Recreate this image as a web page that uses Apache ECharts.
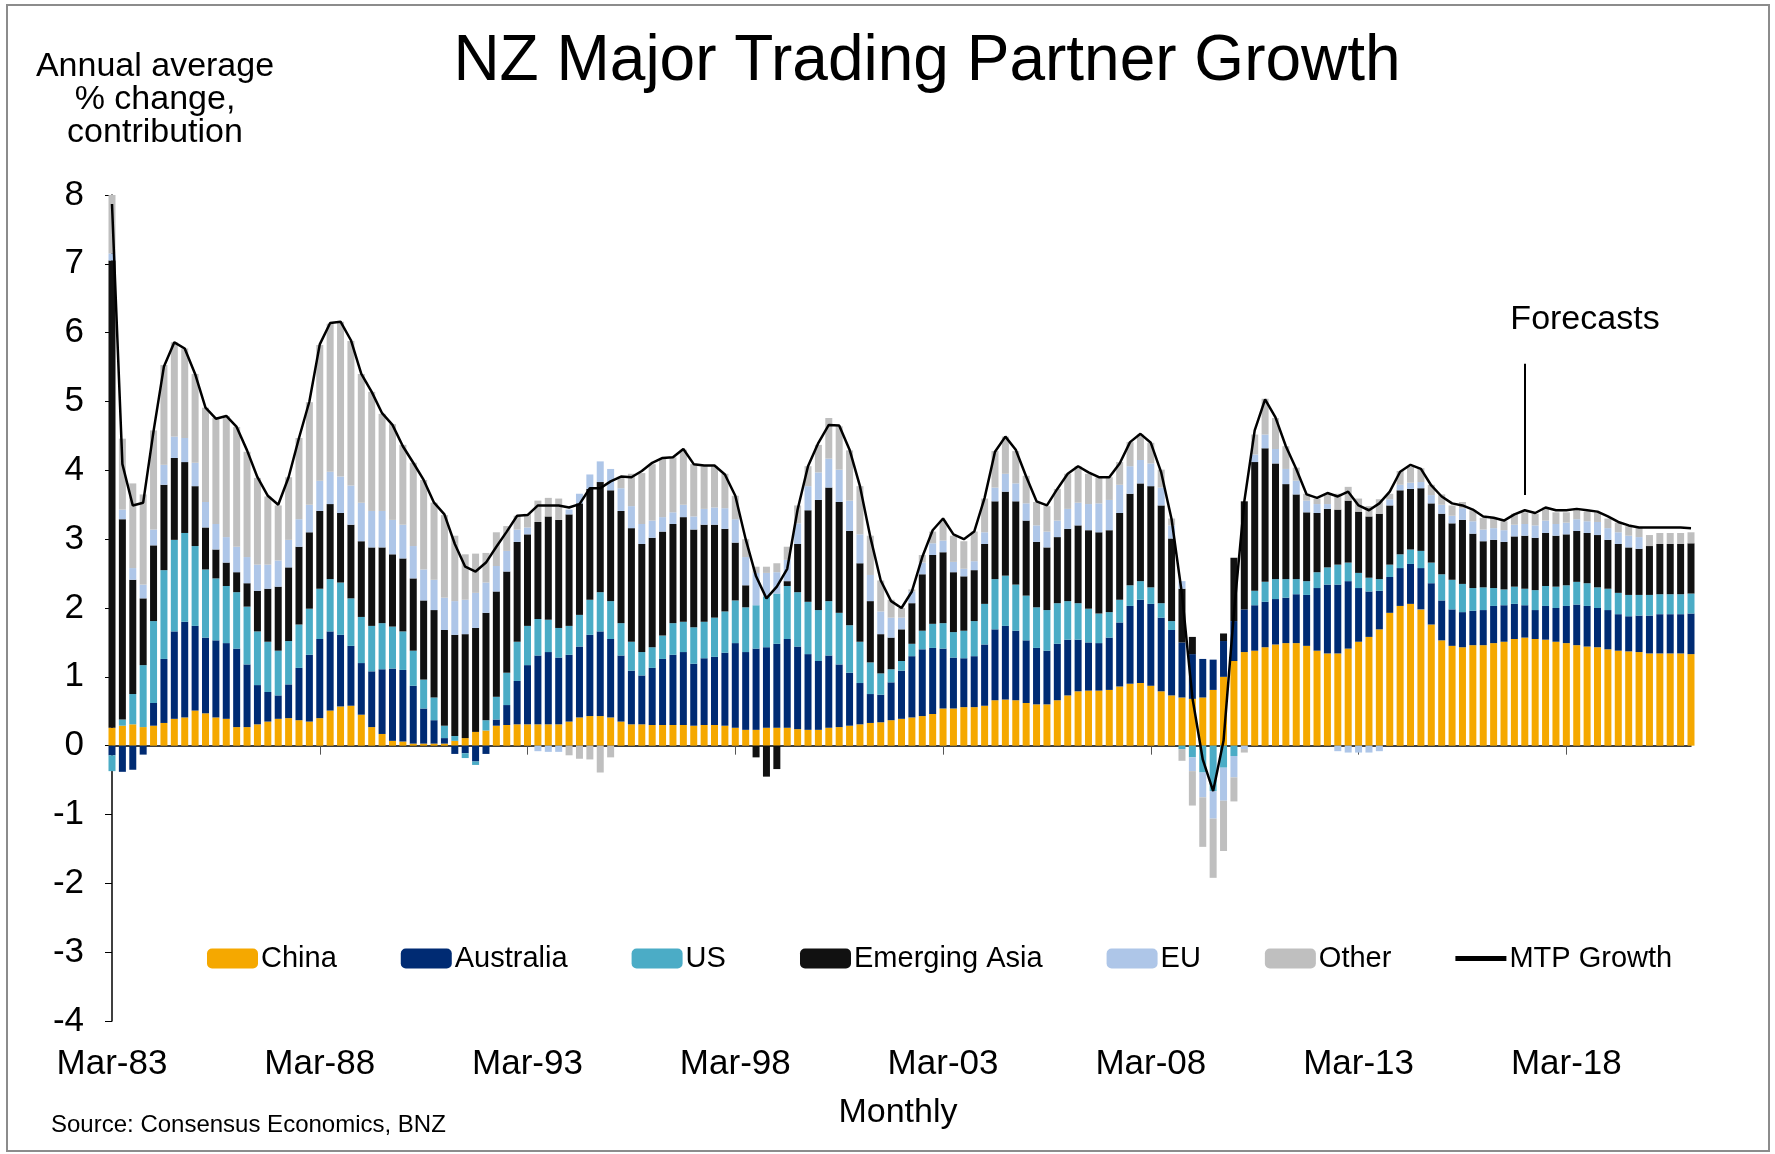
<!DOCTYPE html>
<html>
<head>
<meta charset="utf-8">
<title>NZ Major Trading Partner Growth</title>
<script src="https://cdn.jsdelivr.net/npm/echarts/dist/echarts.min.js"></script>
<style>
  html, body { margin: 0; padding: 0; background: #fff; }
  #chart { width: 1775px; height: 1154px; }
</style>
</head>
<body>
<div id="chart"></div>
<script>
// quarterly, Mar-83 .. Mar-21 (153 points), contributions in % pts
const china = [
  0.26,0.29,0.31,0.27,0.29,0.33,0.39,0.41,0.51,0.47,
  0.41,0.39,0.27,0.27,0.31,0.35,0.39,0.40,0.37,0.35,
  0.40,0.51,0.57,0.58,0.45,0.27,0.17,0.07,0.06,0.03,
  0.03,0.03,0.03,0.07,0.11,0.20,0.22,0.29,0.30,0.31,
  0.31,0.31,0.31,0.31,0.35,0.41,0.43,0.43,0.41,0.35,
  0.31,0.31,0.30,0.30,0.30,0.30,0.29,0.30,0.30,0.29,
  0.26,0.23,0.23,0.26,0.26,0.26,0.24,0.23,0.23,0.26,
  0.27,0.29,0.31,0.33,0.34,0.37,0.39,0.41,0.43,0.46,
  0.54,0.54,0.56,0.56,0.58,0.66,0.67,0.66,0.62,0.60,
  0.60,0.66,0.73,0.79,0.80,0.80,0.81,0.86,0.90,0.91,
  0.87,0.79,0.73,0.70,0.68,0.70,0.81,1.00,1.23,1.36,
  1.38,1.43,1.47,1.49,1.49,1.45,1.38,1.34,1.34,1.41,
  1.51,1.58,1.69,1.93,2.03,2.06,1.98,1.76,1.53,1.45,
  1.43,1.46,1.46,1.49,1.51,1.55,1.57,1.55,1.54,1.51,
  1.49,1.46,1.44,1.43,1.40,1.38,1.37,1.36,1.34,1.34,
  1.34,1.34,1.33
];
const australia = [
  -0.14,-0.38,-0.35,-0.13,0.33,0.93,1.27,1.39,1.23,1.10,
  1.12,1.10,1.14,0.91,0.57,0.43,0.34,0.49,0.76,0.97,
  1.15,1.15,1.04,0.87,0.75,0.81,0.94,1.05,1.04,0.84,
  0.51,0.34,0.08,-0.12,-0.11,-0.23,-0.12,0.09,0.29,0.63,
  0.86,1.00,1.05,0.97,0.97,1.03,1.18,1.23,1.14,0.96,
  0.78,0.71,0.83,0.96,1.02,1.06,0.90,0.97,0.99,1.06,
  1.23,1.13,1.18,1.17,1.22,1.29,1.20,1.10,1.00,1.05,
  0.91,0.77,0.60,0.42,0.40,0.55,0.70,0.89,0.97,0.96,
  0.87,0.74,0.71,0.74,0.89,1.03,1.07,1.01,0.91,0.82,
  0.78,0.82,0.81,0.75,0.70,0.69,0.76,0.93,1.13,1.21,
  1.19,1.07,0.95,0.80,0.65,0.56,0.44,0.52,0.58,0.62,
  0.66,0.66,0.66,0.66,0.71,0.74,0.91,1.00,1.00,0.98,
  0.78,0.66,0.56,0.52,0.55,0.58,0.60,0.60,0.58,0.53,
  0.51,0.50,0.51,0.54,0.53,0.51,0.47,0.42,0.49,0.49,
  0.54,0.59,0.59,0.57,0.57,0.53,0.51,0.53,0.55,0.57,
  0.57,0.57,0.59
];
const us = [
  -0.23,0.09,0.44,0.90,1.19,1.29,1.33,1.29,1.16,0.99,
  0.90,0.83,0.82,0.84,0.78,0.73,0.65,0.63,0.63,0.67,
  0.73,0.76,0.76,0.69,0.67,0.66,0.67,0.61,0.56,0.51,
  0.42,0.33,0.18,0.07,-0.07,-0.05,0.15,0.33,0.47,0.57,
  0.57,0.53,0.47,0.43,0.42,0.46,0.51,0.57,0.55,0.47,
  0.42,0.34,0.30,0.34,0.46,0.44,0.53,0.53,0.57,0.60,
  0.62,0.65,0.63,0.74,0.73,0.77,0.79,0.76,0.74,0.79,
  0.75,0.69,0.60,0.46,0.31,0.19,0.14,0.18,0.27,0.35,
  0.37,0.37,0.40,0.51,0.59,0.73,0.73,0.67,0.65,0.59,
  0.59,0.59,0.56,0.53,0.49,0.43,0.37,0.33,0.30,0.27,
  0.24,0.21,0.13,-0.05,-0.17,-0.39,-0.66,-0.32,-0.15,0,
  0.21,0.29,0.29,0.27,0.22,0.20,0.23,0.25,0.29,0.27,
  0.22,0.20,0.17,0.18,0.20,0.21,0.25,0.30,0.38,0.43,
  0.41,0.33,0.33,0.26,0.23,0.25,0.24,0.29,0.29,0.31,
  0.30,0.33,0.33,0.30,0.31,0.31,0.31,0.30,0.30,0.29,
  0.29,0.29,0.29
];
const emergingAsia = [
  6.79,2.91,1.66,0.97,1.10,1.24,1.19,1.03,0.87,0.61,
  0.42,0.34,0.29,0.34,0.59,0.77,0.93,1.07,1.13,1.11,
  1.13,1.09,1.01,1.07,1.10,1.14,1.10,1.05,1.06,1.05,
  1.15,1.27,1.39,1.47,1.51,1.51,1.56,1.53,1.47,1.45,
  1.33,1.41,1.50,1.57,1.62,1.62,1.61,1.60,1.61,1.63,
  1.65,1.57,1.59,1.51,1.44,1.52,1.42,1.41,1.35,1.20,
  0.84,0.32,-0.17,-0.45,-0.34,0.07,0.70,1.33,1.60,1.65,
  1.61,1.37,1.14,0.89,0.57,0.46,0.46,0.59,0.82,1.00,
  1.03,0.87,0.79,0.74,0.87,1.13,1.22,1.21,1.09,0.95,
  0.91,0.96,1.05,1.13,1.14,1.18,1.19,1.26,1.33,1.42,
  1.47,1.42,1.20,0.78,0.25,0,0,0.11,0.92,1.57,
  1.87,1.94,1.68,1.38,1.23,1.00,0.86,0.85,0.80,0.90,
  0.89,0.89,0.95,0.86,0.93,0.88,0.91,0.86,0.88,0.82,
  0.93,0.79,0.67,0.70,0.69,0.73,0.77,0.76,0.77,0.74,
  0.74,0.74,0.73,0.76,0.71,0.71,0.69,0.67,0.71,0.73,
  0.73,0.73,0.73
];
const eu = [
  0.10,0.14,0.17,0.20,0.23,0.29,0.31,0.35,0.34,0.37,
  0.37,0.37,0.37,0.38,0.38,0.35,0.38,0.40,0.40,0.40,
  0.44,0.47,0.53,0.57,0.56,0.53,0.53,0.50,0.49,0.47,
  0.45,0.44,0.47,0.49,0.50,0.51,0.44,0.37,0.30,0.18,
  0.10,-0.08,-0.09,-0.09,0.07,0.14,0.21,0.30,0.31,0.33,
  0.32,0.29,0.25,0.21,0.17,0.18,0.19,0.23,0.25,0.30,
  0.34,0.41,0.47,0.34,0.31,0.31,0.30,0.35,0.40,0.42,
  0.47,0.44,0.42,0.38,0.33,0.29,0.17,0.17,0.17,0.17,
  0.17,0.15,0.11,0.13,0.17,0.20,0.26,0.26,0.25,0.24,
  0.23,0.24,0.29,0.33,0.38,0.42,0.44,0.41,0.40,0.34,
  0.33,0.26,0.19,0.11,-0.20,-0.36,-0.40,-0.48,-0.31,-0.05,
  0.11,0.20,0.21,0.22,0.20,0.17,0.13,0.07,-0.08,-0.10,
  -0.10,-0.10,-0.08,0.09,0.08,0.09,0.09,0.12,0.13,0.11,
  0.17,0.18,0.17,0.17,0.17,0.17,0.17,0.18,0.18,0.17,
  0.17,0.17,0.17,0.19,0.17,0.17,0.17,0.17,0,0,
  0,0,0
];
const other = [
  0.85,1.03,1.23,1.31,1.44,1.45,1.37,1.30,1.29,1.37,
  1.54,1.76,1.74,1.53,1.26,0.99,0.80,0.91,1.18,1.49,
  1.97,2.15,2.25,2.10,1.87,1.73,1.41,1.39,1.16,1.21,
  1.30,1.12,1.20,0.95,0.66,0.57,0.43,0.49,0.36,0.20,
  0.20,0.31,0.27,0.31,-0.14,-0.19,-0.20,-0.39,-0.17,0.17,
  0.47,0.74,0.82,0.86,0.80,0.80,0.76,0.62,0.60,0.50,
  0.34,0.26,0.09,0.09,0.13,0.19,0.26,0.29,0.40,0.59,
  0.63,0.73,0.70,0.57,0.45,0.26,0.14,0.03,0.11,0.17,
  0.29,0.38,0.40,0.43,0.49,0.53,0.54,0.47,0.40,0.34,
  0.37,0.46,0.51,0.53,0.44,0.38,0.33,0.33,0.35,0.37,
  0.30,0.26,0.10,-0.17,-0.50,-0.72,-0.86,-0.73,-0.35,-0.05,
  0.29,0.52,0.45,0.33,0.19,0.10,0.08,0.15,0.23,0.20,
  0.19,0.15,0.21,0.08,0.20,0.23,0.20,0.15,0.15,0.15,
  0.09,0.16,0.17,0.15,0.13,0.16,0.17,0.17,0.19,0.17,
  0.15,0.15,0.14,0.14,0.14,0.14,0.14,0.14,0.16,0.16,
  0.16,0.16,0.16
];
const mtpGrowth = [
  7.87,4.09,3.49,3.53,4.57,5.51,5.86,5.77,5.40,4.91,
  4.75,4.79,4.63,4.29,3.90,3.63,3.50,3.90,4.47,5.00,
  5.83,6.14,6.16,5.89,5.40,5.14,4.83,4.66,4.35,4.11,
  3.86,3.53,3.36,2.93,2.60,2.53,2.66,2.89,3.11,3.34,
  3.35,3.49,3.49,3.49,3.46,3.51,3.74,3.74,3.84,3.91,
  3.90,3.99,4.11,4.18,4.19,4.31,4.09,4.07,4.07,3.94,
  3.63,3.00,2.46,2.14,2.31,2.57,3.43,4.06,4.40,4.66,
  4.65,4.30,3.77,3.03,2.40,2.10,2.00,2.24,2.74,3.13,
  3.30,3.07,3.00,3.11,3.60,4.27,4.49,4.30,3.91,3.55,
  3.49,3.73,3.95,4.06,3.97,3.90,3.90,4.10,4.41,4.53,
  4.40,3.97,3.29,2.20,0.70,-0.20,-0.66,0.07,1.93,3.55,
  4.58,5.03,4.77,4.35,4.02,3.65,3.60,3.67,3.62,3.69,
  3.49,3.42,3.52,3.69,3.98,4.08,4.02,3.78,3.62,3.52,
  3.49,3.43,3.33,3.31,3.27,3.36,3.42,3.38,3.46,3.42,
  3.42,3.44,3.42,3.40,3.33,3.25,3.20,3.17,3.17,3.17,
  3.17,3.17,3.16
];

// category labels: quarter ends from Mar-83
const quarters = ['Mar', 'Jun', 'Sep', 'Dec'];
const categories = [];
for (let i = 0; i < mtpGrowth.length; i++) {
  const yy = (83 + Math.floor(i / 4)) % 100;
  categories.push(quarters[i % 4] + '-' + String(yy).padStart(2, '0'));
}
// forecasts start marker
const forecastStart = 'Mar-17';
const forecastSpan = [5.55, 3.64];

const font = "'Liberation Sans', Arial, sans-serif";
const colors = {
  China: '#F5A800',
  Australia: '#002B73',
  US: '#4BACC6',
  'Emerging Asia': '#111111',
  EU: '#AEC6E8',
  Other: '#BFBFBF'
};

function barSeries(name, data) {
  return {
    name: name,
    type: 'bar',
    stack: 'total',
    data: data,
    barWidth: 7,
    clip: false,
    itemStyle: { color: colors[name] }
  };
}

function legendPart(left, names) {
  return {
    left: left,
    top: 944,
    padding: 0,
    itemWidth: 51,
    itemHeight: 20,
    itemGap: 64,
    icon: 'roundRect',
    textStyle: { fontSize: 29, color: '#000', fontFamily: font, padding: [0, 0, 0, -2] },
    data: names
  };
}

const showEvery20 = function (i) { return i % 20 === 0; };

const option = {
  animation: false,
  backgroundColor: '#fff',
  textStyle: { fontFamily: font },
  grid: { left: 112, right: 84, top: 195, bottom: 133 },
  legend: [
    legendPart(207, ['China', 'Australia', 'US']),
    legendPart(800, ['Emerging Asia', 'EU', 'Other',
      { name: 'MTP Growth', icon: 'path://M0,0 L10,0 L10,1 L0,1 Z' }])
  ],
  xAxis: [
    {
      type: 'category',
      data: categories,
      boundaryGap: false,
      position: 'bottom',
      axisLine: { onZero: true, lineStyle: { color: '#000', width: 1.5 } },
      axisTick: { show: true, interval: showEvery20, length: 9, lineStyle: { color: '#555' } },
      axisLabel: { show: false },
      splitLine: { show: false }
    },
    {
      type: 'category',
      data: categories,
      boundaryGap: false,
      position: 'bottom',
      axisLine: { show: false, onZero: false },
      axisTick: { show: false },
      axisLabel: {
        interval: showEvery20,
        margin: 26,
        fontSize: 35,
        color: '#000',
        fontFamily: font
      },
      splitLine: { show: false }
    }
  ],
  yAxis: {
    type: 'value',
    min: -4,
    max: 8,
    interval: 1,
    axisLine: { show: true, lineStyle: { color: '#000', width: 1.5 } },
    axisTick: { show: true, length: 7, lineStyle: { color: '#000' } },
    axisLabel: { fontSize: 35, color: '#000', margin: 28, fontFamily: font },
    splitLine: { show: false }
  },
  series: [
    barSeries('China', china),
    barSeries('Australia', australia),
    barSeries('US', us),
    barSeries('Emerging Asia', emergingAsia),
    barSeries('EU', eu),
    barSeries('Other', other),
    {
      name: 'MTP Growth',
      type: 'line',
      data: mtpGrowth,
      symbol: 'none',
      z: 5,
      lineStyle: { color: '#000', width: 2.5 },
      itemStyle: { color: '#000' },
      markLine: {
        silent: true,
        symbol: ['none', 'none'],
        label: { show: false },
        lineStyle: { color: '#000', width: 2, type: 'solid' },
        data: [[
          { coord: [forecastStart, forecastSpan[0]] },
          { coord: [forecastStart, forecastSpan[1]] }
        ]]
      }
    }
  ],
  graphic: [
    {
      type: 'rect',
      shape: { x: 7, y: 5, width: 1762, height: 1146 },
      style: { fill: null, stroke: '#8c8c8c', lineWidth: 2 },
      silent: true
    },
    {
      type: 'text', x: 927, y: 62,
      style: { text: 'NZ Major Trading Partner Growth', font: '64px ' + font, fill: '#000',
        textAlign: 'center', textVerticalAlign: 'middle' }
    },
    {
      type: 'text', x: 155, y: 100,
      style: { text: 'Annual average\n% change,\ncontribution', font: '34px ' + font, fill: '#000',
        lineHeight: 33, textAlign: 'center', textVerticalAlign: 'middle' }
    },
    {
      type: 'text', x: 1585, y: 320,
      style: { text: 'Forecasts', font: '34px ' + font, fill: '#000',
        textAlign: 'center', textVerticalAlign: 'middle' }
    },
    {
      type: 'text', x: 898, y: 1113,
      style: { text: 'Monthly', font: '34px ' + font, fill: '#000',
        textAlign: 'center', textVerticalAlign: 'middle' }
    },
    {
      type: 'text', x: 51, y: 1125,
      style: { text: 'Source: Consensus Economics, BNZ', font: '24px ' + font, fill: '#000',
        textAlign: 'left', textVerticalAlign: 'middle' }
    }
  ]
};

const chart = echarts.init(document.getElementById('chart'));
chart.setOption(option);
window.addEventListener('resize', function () {
  chart.resize();
});
</script>
</body>
</html>
